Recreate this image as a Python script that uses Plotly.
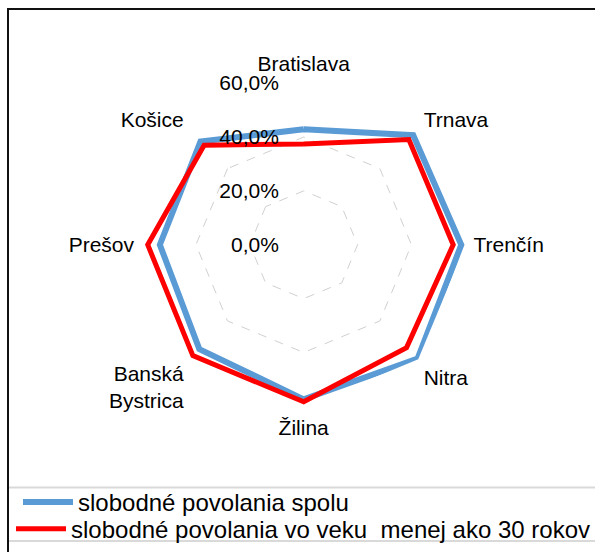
import plotly.graph_objects as go

W, H = 595, 552

categories = ["Bratislava", "Trnava", "Trenčín", "Nitra", "Žilina",
              "Banská<br>Bystrica", "Prešov", "Košice"]
spolu = [0.429, 0.575, 0.585, 0.598, 0.574, 0.548, 0.534, 0.542]
do30 = [0.374, 0.552, 0.555, 0.540, 0.583, 0.582, 0.579, 0.523]
series_names = ["slobodné povolania spolu",
                "slobodné povolania vo veku  menej ako 30 rokov"]
radial_ticks = [0.0, 0.2, 0.4, 0.6]

FONT = "Liberation Sans, Arial, sans-serif"

def px_x(v):
    return v / W

def px_y(v):
    return 1 - v / H

# polar geometry (pixels)
cx, cy, R = 303.7, 247.0, 163.5

fig = go.Figure()
fig.add_trace(go.Scatterpolar(
    r=spolu + spolu[:1], theta=categories + categories[:1],
    mode="lines", name=series_names[0], legend="legend",
    line=dict(color="#5B9BD5", width=6), cliponaxis=False))
fig.add_trace(go.Scatterpolar(
    r=do30 + do30[:1], theta=categories + categories[:1],
    mode="lines", name=series_names[1], legend="legend2",
    line=dict(color="#FF0000", width=5), cliponaxis=False))

legend_common = dict(xanchor="left", yanchor="middle",
                     font=dict(size=24, family=FONT), itemwidth=50,
                     bgcolor="rgba(0,0,0,0)")

fig.update_layout(
    width=W, height=H,
    margin=dict(l=0, r=0, t=0, b=0),
    paper_bgcolor="white",
    separators=", ",
    font=dict(family=FONT, color="#000000", size=20),
    polar=dict(
        domain=dict(x=[px_x(cx - R), px_x(cx + R)],
                    y=[px_y(cy + R), px_y(cy - R)]),
        bgcolor="white",
        gridshape="linear",
        angularaxis=dict(direction="clockwise", rotation=90,
                         showgrid=False, showline=False,
                         ticks="outside", ticklen=3,
                         tickcolor="rgba(0,0,0,0)",
                         tickfont=dict(size=21, family=FONT)),
        radialaxis=dict(range=[0, 0.6015], tickvals=radial_ticks,
                        tickformat=".1%", angle=90, tickangle=90,
                        side="counterclockwise",
                        showline=False, ticks="outside", ticklen=17,
                        tickcolor="rgba(0,0,0,0)",
                        gridcolor="#d0d0d0", griddash="dash", gridwidth=1,
                        tickfont=dict(size=21, family=FONT)),
    ),
    showlegend=True,
    legend=dict(x=px_x(18), y=px_y(507), **legend_common),
    legend2=dict(x=px_x(18), y=px_y(534), **legend_common),
    shapes=[
        dict(type="rect", xref="paper", yref="paper",
             x0=px_x(8), x1=px_x(620), y0=px_y(580), y1=px_y(9),
             line=dict(color="#111111", width=2), layer="below"),
        dict(type="line", xref="paper", yref="paper",
             x0=px_x(9), x1=px_x(620), y0=px_y(492), y1=px_y(492),
             line=dict(color="#d9d9d9", width=2)),
        dict(type="line", xref="paper", yref="paper",
             x0=px_x(9), x1=px_x(620), y0=px_y(546), y1=px_y(546),
             line=dict(color="#d9d9d9", width=2)),
    ],
    annotations=[
        dict(text="30 rokov", xref="paper", yref="paper",
             x=px_x(10), y=px_y(7.5), xanchor="left", yanchor="bottom",
             showarrow=False, font=dict(size=22, family=FONT)),
    ],
)

fig.write_html("out.html", config={"displayModeBar": False},
               post_script="document.body.style.margin='0px';")
